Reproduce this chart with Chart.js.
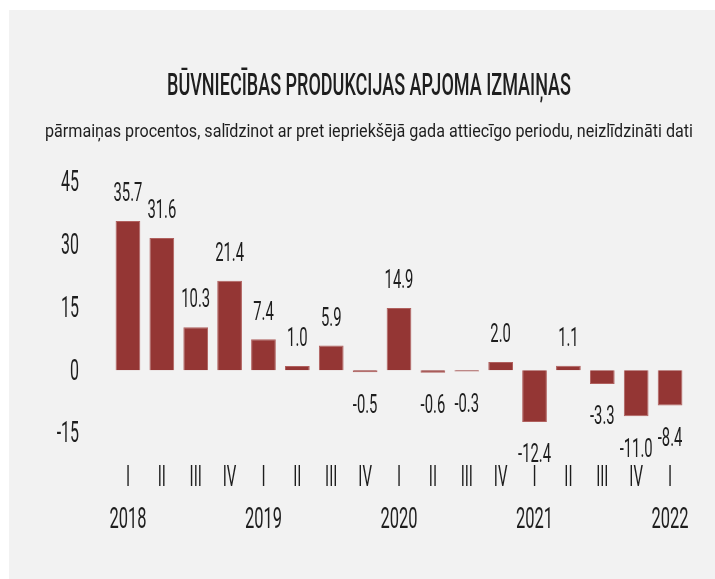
<!DOCTYPE html>
<html>
<head>
<meta charset="utf-8">
<script src="https://cdn.jsdelivr.net/npm/chart.js@4.4.1/dist/chart.umd.min.js"></script>
<style>
  html, body { margin: 0; padding: 0; background: #fff; overflow: hidden; }
  #wrap { position: absolute; left: 9px; top: 10px; width: 706px; height: 569px; background: #f2f2f2; }
</style>
</head>
<body>
<div id="wrap"><canvas id="chart" width="706" height="569"></canvas></div>
<script>
// Būvniecības produkcijas apjoma izmaiņas pa ceturkšņiem
const ceturksni = ['I', 'II', 'III', 'IV', 'I', 'II', 'III', 'IV', 'I', 'II', 'III', 'IV', 'I', 'II', 'III', 'IV', 'I'];
const gadi = ['2018', '', '', '', '2019', '', '', '', '2020', '', '', '', '2021', '', '', '', '2022'];
const izmainas = [35.7, 31.6, 10.3, 21.4, 7.4, 1.0, 5.9, -0.5, 14.9, -0.6, -0.3, 2.0, -12.4, 1.1, -3.3, -11.0, -8.4];
const yTicks = [-15, 0, 15, 30, 45];

const virsraksts = 'BŪVNIECĪBAS PRODUKCIJAS APJOMA IZMAIŅAS';
const apakvirsraksts = 'pārmaiņas procentos, salīdzinot ar pret iepriekšējā gada attiecīgo periodu, neizlīdzināti dati';

const FONT = 'Roboto, "DejaVu Sans", sans-serif';
const TEXT = '#1e1e1e';
const CAP = 0.711; // Roboto cap height

// saspiests teksts (šaurais burtveidols)
function squeezed(ctx, txt, x, y, sx, align) {
    ctx.save();
    ctx.translate(x, y);
    ctx.scale(sx, 1);
    ctx.textAlign = align || 'center';
    ctx.fillText(txt, 0, 0);
    ctx.restore();
}

// teksts, kas ietilpināts dotajā platumā
function fitted(ctx, txt, cx, y, width) {
    const w = ctx.measureText(txt).width;
    squeezed(ctx, txt, cx, y, width / w, 'center');
}

const uzraksti = {
    id: 'uzraksti',
    afterDraw(chart) {
        const ctx = chart.ctx;
        const xs = chart.scales.x;
        const ys = chart.scales.y;
        ctx.save();
        ctx.fillStyle = TEXT;
        ctx.textBaseline = 'alphabetic';

        // virsraksti
        ctx.font = '500 32px ' + FONT;
        fitted(ctx, virsraksts, 360, 73.7 + 32 * CAP / 2, 404);
        ctx.font = '400 19px ' + FONT;
        fitted(ctx, apakvirsraksts, 360, 126.7, 648);

        // y ass
        ctx.font = '400 29px ' + FONT;
        yTicks.forEach(v => {
            squeezed(ctx, String(v), 70, ys.getPixelForValue(v) + 29 * CAP / 2 - 1, 0.55, 'right');
        });

        // x ass: ceturkšņi un gadi
        ceturksni.forEach((q, i) => {
            const x = xs.getPixelForTick(i);
            ctx.font = '400 30px ' + FONT;
            squeezed(ctx, q, x, 465 + 30 * CAP / 2, 0.5, 'center');
            if (gadi[i]) {
                squeezed(ctx, gadi[i], x, 507 + 30 * CAP / 2, 0.55, 'center');
            }
        });

        // vērtības pie stabiņiem
        ctx.font = '400 26px ' + FONT;
        chart.getDatasetMeta(0).data.forEach((bar, i) => {
            const v = izmainas[i];
            const cy = v >= 0 ? bar.y - 29 : bar.y + 31;
            squeezed(ctx, v.toFixed(1), bar.x, cy + 26 * CAP / 2, 0.57, 'center');
        });
        ctx.restore();
    }
};

new Chart(document.getElementById('chart'), {
    type: 'bar',
    data: {
        labels: ceturksni,
        datasets: [{
            data: izmainas,
            backgroundColor: '#943634',
            borderColor: '#b0605e',
            borderWidth: 1,
            categoryPercentage: 1,
            barPercentage: 0.73
        }]
    },
    options: {
        responsive: false,
        animation: false,
        layout: { padding: { left: 0, right: 28, top: 172, bottom: 0 } },
        plugins: {
            legend: { display: false },
            tooltip: { enabled: false },
            title: { display: false }
        },
        scales: {
            x: {
                grid: { display: false, drawTicks: false },
                border: { display: false },
                ticks: { display: false },
                afterFit(scale) { scale.height = 146; }
            },
            y: {
                min: -15,
                max: 45,
                afterBuildTicks(scale) { scale.ticks = yTicks.map(v => ({ value: v })); },
                grid: { display: false, drawTicks: false },
                border: { display: false },
                ticks: { display: false },
                afterFit(scale) { scale.width = 102; }
            }
        }
    },
    plugins: [uzraksti]
});
</script>
</body>
</html>
